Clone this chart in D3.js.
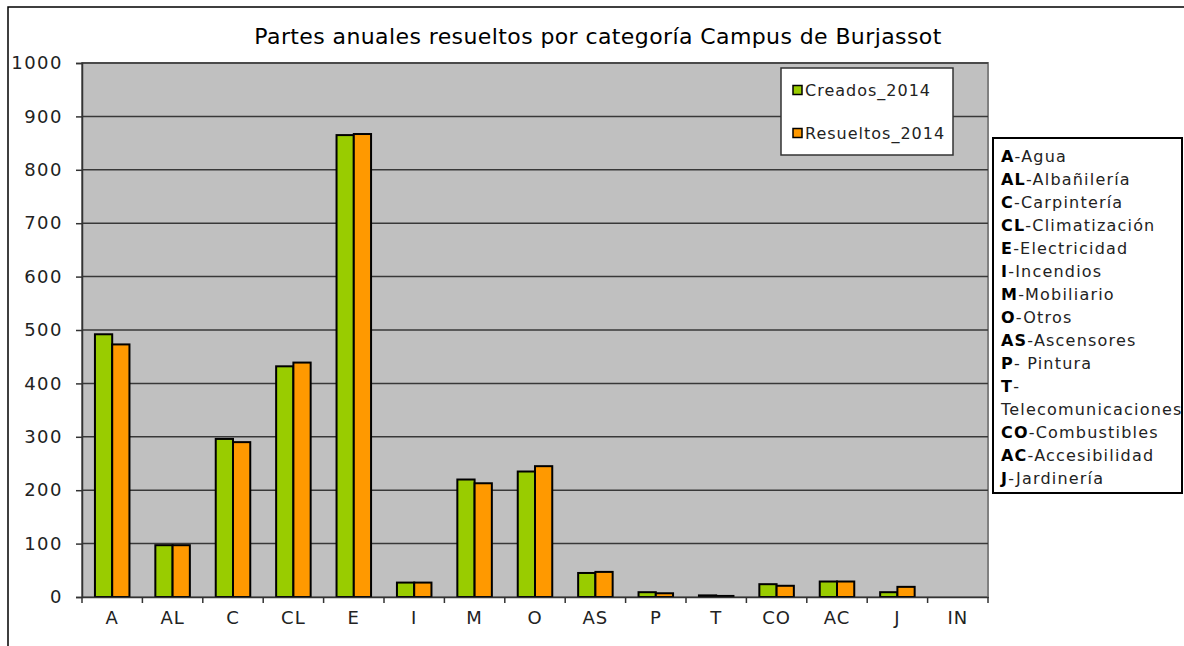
<!DOCTYPE html>
<html>
<head>
<meta charset="utf-8">
<script src="https://cdn.jsdelivr.net/npm/d3@7"></script>
<style>
  body { margin: 0; background: #fff; }
  svg { display: block; font-family: "DejaVu Sans", sans-serif; }
</style>
</head>
<body>
<div id="chart"></div>
<script>
// datos
const categorias = ["A", "AL", "C", "CL", "E", "I", "M", "O", "AS", "P", "T", "CO", "AC", "J", "IN"];
const creados2014 = [492, 97, 296, 432, 865, 27, 220, 235, 45, 9, 3, 24, 29, 9, 0];
const resueltos2014 = [473, 97, 290, 439, 867, 27, 213, 245, 47, 7, 2, 21, 29, 19, 0];
const series = ["Creados_2014", "Resueltos_2014"];
const yTicks = [0, 100, 200, 300, 400, 500, 600, 700, 800, 900, 1000];
const leyendaCodigos = [
  ["A", "-Agua"], ["AL", "-Albañilería"], ["C", "-Carpintería"], ["CL", "-Climatización"],
  ["E", "-Electricidad"], ["I", "-Incendios"], ["M", "-Mobiliario"], ["O", "-Otros"],
  ["AS", "-Ascensores"], ["P", "- Pintura"], ["T", "-"], ["", "Telecomunicaciones"],
  ["CO", "-Combustibles"], ["AC", "-Accesibilidad"], ["J", "-Jardinería"]
];

const W = 1184, H = 646;
const colores = { "Creados_2014": "#99CC00", "Resueltos_2014": "#FF9900" };
const plot = { left: 82, right: 988, top: 63, bottom: 597 };

const svg = d3.select("#chart").append("svg")
  .attr("width", W).attr("height", H);

svg.append("rect").attr("width", W).attr("height", H).attr("fill", "#fff");

// marco del área del gráfico
svg.append("path")
  .attr("d", `M8,${H} V7 H${W}`)
  .attr("fill", "none").attr("stroke", "#000").attr("stroke-width", 1.5);

svg.append("text")
  .attr("x", 598).attr("y", 44)
  .attr("text-anchor", "middle")
  .style("font-size", "22px")
  .style("letter-spacing", "0.4px")
  .style("fill", "#000")
  .text("Partes anuales resueltos por categoría Campus de Burjassot");

const x = d3.scaleBand().domain(categorias).range([plot.left, plot.right]).padding(0);
const x1 = d3.scaleBand().domain(series).range([0, x.bandwidth()]).paddingInner(0).paddingOuter(0.75);
const y = d3.scaleLinear().domain([0, 1000]).range([plot.bottom, plot.top]);

svg.append("rect")
  .attr("x", plot.left).attr("y", plot.top)
  .attr("width", plot.right - plot.left).attr("height", plot.bottom - plot.top)
  .attr("fill", "#C0C0C0").attr("stroke", "#808080").attr("stroke-width", 2);

// líneas de cuadrícula
svg.append("g").selectAll("line")
  .data(yTicks.filter(d => d > 0))
  .enter().append("line")
  .attr("x1", plot.left).attr("x2", plot.right)
  .attr("y1", d => y(d)).attr("y2", d => y(d))
  .attr("stroke", "#383838").attr("stroke-width", 1.5);

// eje Y
const yAxis = svg.append("g")
  .attr("transform", `translate(${plot.left},0)`)
  .call(d3.axisLeft(y).tickValues(yTicks).tickFormat(d3.format("d")).tickSize(6).tickPadding(13));
yAxis.select(".domain").attr("stroke", "#333").attr("stroke-width", 1.5);
yAxis.selectAll(".tick line").attr("stroke", "#333").attr("stroke-width", 1.5);
yAxis.selectAll("text").style("font-size", "18px").style("letter-spacing", "1.5px")
  .style("fill", "#222").style("font-family", "DejaVu Sans");

// barras
const grupos = svg.append("g").selectAll("g")
  .data(categorias.map((c, i) => ({ cat: c, vals: [creados2014[i], resueltos2014[i]] })))
  .enter().append("g")
  .attr("transform", d => `translate(${x(d.cat)},0)`);

grupos.selectAll("rect")
  .data(d => d.vals.map((v, j) => ({ serie: series[j], v })).filter(e => e.v > 0))
  .enter().append("rect")
  .attr("x", d => x1(d.serie))
  .attr("y", d => y(d.v))
  .attr("width", x1.bandwidth())
  .attr("height", d => y(0) - y(d.v))
  .attr("fill", d => colores[d.serie])
  .attr("stroke", "#000").attr("stroke-width", 2);

// eje X
const xAxis = svg.append("g")
  .attr("transform", `translate(0,${plot.bottom})`)
  .call(d3.axisBottom(x).tickSize(0).tickPadding(14));
xAxis.select(".domain").attr("stroke", "#333").attr("stroke-width", 1.5);
xAxis.selectAll("text").style("font-size", "18px").style("letter-spacing", "1px")
  .style("fill", "#222").style("font-family", "DejaVu Sans");

svg.append("g").selectAll("line")
  .data(categorias.map(c => x(c)).concat([plot.right]))
  .enter().append("line")
  .attr("x1", d => d).attr("x2", d => d)
  .attr("y1", plot.bottom).attr("y2", plot.bottom + 6)
  .attr("stroke", "#333").attr("stroke-width", 1.5);

// leyenda de series
const leg = svg.append("g");
leg.append("rect")
  .attr("x", 781).attr("y", 68).attr("width", 172).attr("height", 87)
  .attr("fill", "#fff").attr("stroke", "#333").attr("stroke-width", 1.5);
const legItems = leg.selectAll("g.item")
  .data(series)
  .enter().append("g").attr("class", "item")
  .attr("transform", (d, i) => `translate(793,${90 + i * 43})`);
legItems.append("rect")
  .attr("x", 0).attr("y", -4.5).attr("width", 9).attr("height", 9)
  .attr("fill", d => colores[d]).attr("stroke", "#000").attr("stroke-width", 1.5);
legItems.append("text")
  .attr("x", 12).attr("dy", "0.35em")
  .style("font-size", "16px").style("letter-spacing", "1px").style("fill", "#222")
  .text(d => d);

// leyenda de códigos
const cod = svg.append("g");
cod.append("rect")
  .attr("x", 993).attr("y", 138).attr("width", 189).attr("height", 355)
  .attr("fill", "#fff").attr("stroke", "#000").attr("stroke-width", 2);
const lineas = cod.selectAll("text")
  .data(leyendaCodigos)
  .enter().append("text")
  .attr("x", 1001)
  .attr("y", (d, i) => 162 + i * 23)
  .style("font-size", "16px").style("letter-spacing", "1.2px").style("fill", "#222");
lineas.append("tspan").style("font-weight", "bold").style("fill", "#000").text(d => d[0]);
lineas.append("tspan").text(d => d[1]);
</script>
</body>
</html>
